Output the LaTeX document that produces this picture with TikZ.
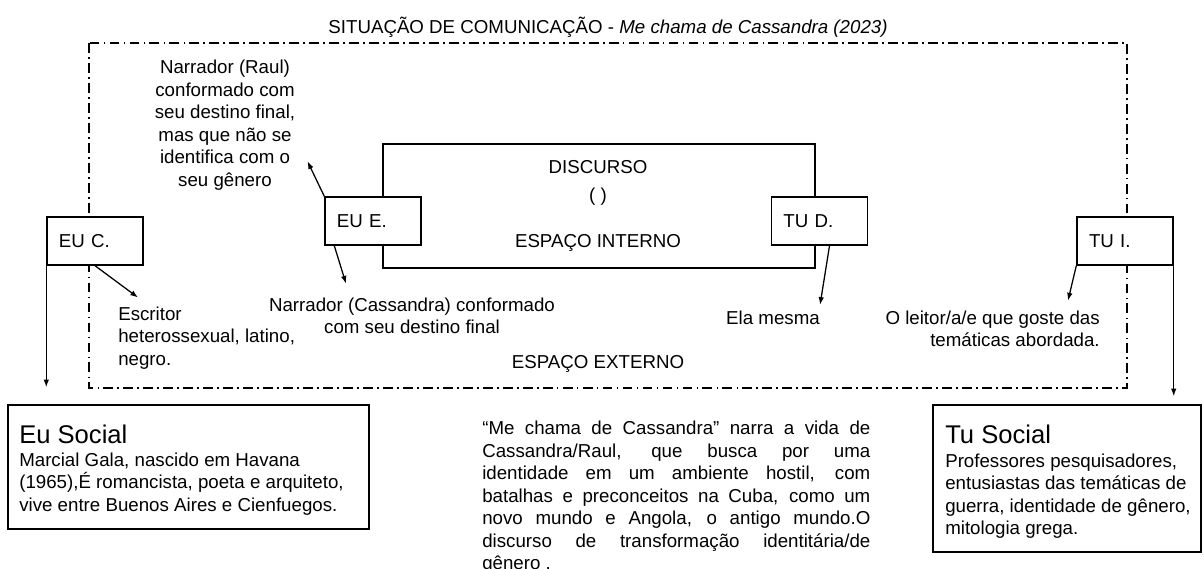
\documentclass[tikz,border=0pt]{standalone}
\usepackage{fontspec}
\setmainfont{Liberation Sans}
\usetikzlibrary{arrows.meta}
\newcommand{\bodysize}{\fontsize{13.3}{16}\selectfont}
\newcommand{\headsize}{\fontsize{18.2}{22}\selectfont}
\tikzset{
  lbl/.style={draw, fill=white, line width=1pt, minimum height=1.2cm, text width=1.8cm, inner xsep=0.3cm, align=left, font=\bodysize},
  txt/.style={inner sep=0pt, font=\bodysize},
  arr/.style={line width=0.9pt, -{Latex[length=5.5pt,width=4pt]}},
  social/.style={draw, line width=1pt},
  extframe/.style={line width=1.6pt, dash pattern=on 7pt off 3pt on 1.2pt off 3pt},
}
\begin{document}
\begin{tikzpicture}[x=0.025cm, y=-0.025cm]
\useasboundingbox (0,0) rectangle (1204,569);
\node[txt] (titulo) at (608,27) {SITUAÇÃO DE COMUNICAÇÃO - \textit{Me chama de Cassandra (2023)}};
\draw[extframe] (89,43) rectangle (1127,388);
\draw[line width=1.8pt] (383,144) rectangle (815,268);
\node[txt, align=center] (raul) at (225,125) {Narrador (Raul)\\conformado com\\seu destino final,\\mas que não se\\identifica com o\\seu gênero};
\node[txt] (discurso) at (598,167) {DISCURSO};
\node[txt] (parenteses) at (598,197) {( )};
\node[txt] (interno) at (598,243) {ESPAÇO INTERNO};
\node[lbl] (euc) at (95,241) {EU C.};
\node[lbl] (eue) at (373,221) {EU E.};
\node[lbl] (tud) at (819.5,221) {TU D.};
\node[lbl] (tui) at (1125,241) {TU I.};
\node[txt, align=left, anchor=west] (escritor) at (118,338) {Escritor\\heterossexual, latino,\\negro.};
\node[txt, align=center] (cassandra) at (412,316) {Narrador (Cassandra) conformado\\com seu destino final};
\node[txt] (ela) at (773,318) {Ela mesma};
\node[txt, align=right, anchor=east] (leitor) at (1100,329) {O leitor/a/e que goste das\\temáticas abordada.};
\node[txt] (externo) at (598,364) {ESPAÇO EXTERNO};
% caixas sociais
\node[social, minimum width=9.025cm, minimum height=3.1cm] (eusocial) at (188.5,467) {};
\node[txt, font=\headsize, anchor=west] (eusocialtit) at (19,434) {Eu Social};
\node[txt, align=left, anchor=west] (eusocialtxt) at (19,484) {Marcial Gala, nascido em Havana\\(1965),É romancista, poeta e arquiteto,\\vive entre Buenos Aires e Cienfuegos.};
\node[social, minimum width=6.7cm, minimum height=3.675cm] (tusocial) at (1067,478.5) {};
\node[txt, font=\headsize, anchor=west] (tusocialtit) at (945,434) {Tu Social};
\node[txt, align=left, anchor=west] (tusocialtxt) at (945,496) {Professores pesquisadores,\\entusiastas das temáticas de\\guerra, identidade de gênero,\\mitologia grega.};
\node[txt, text width=9.7cm, align=justify, anchor=north west] (resumo) at (482,421) {\tolerance=10000\hyphenpenalty=10000 “Me chama de Cassandra” narra a vida de\linebreak Cassandra/Raul, que busca por uma\linebreak identidade em um ambiente hostil, com\linebreak batalhas e preconceitos na Cuba, como um\linebreak novo mundo e Angola, o antigo mundo.O\linebreak discurso de transformação identitária/de\linebreak gênero .};
% setas
\draw[arr] (eue.north west) -- ([shift={(12,-29)}]raul.south east);
\draw[arr] ([xshift=0.25cm]eue.south west) -- ([shift={(-66,-14)}]cassandra.north);
\draw[arr] (euc.south) -- ([shift={(20,-9)}]escritor.north west);
\draw[arr, shorten >=0.425cm] (euc.south west) -- (euc.south west |- eusocial.north);
\draw[arr] ([xshift=0.25cm]tud.south) -- ([shift={(0,-6)}]ela.north east);
\draw[arr] (tui.south west) -- ([shift={(-32,-10)}]leitor.north east);
\draw[arr, shorten >=0.2cm] (tui.south east) -- (tui.south east |- tusocial.north);
\end{tikzpicture}
\end{document}
